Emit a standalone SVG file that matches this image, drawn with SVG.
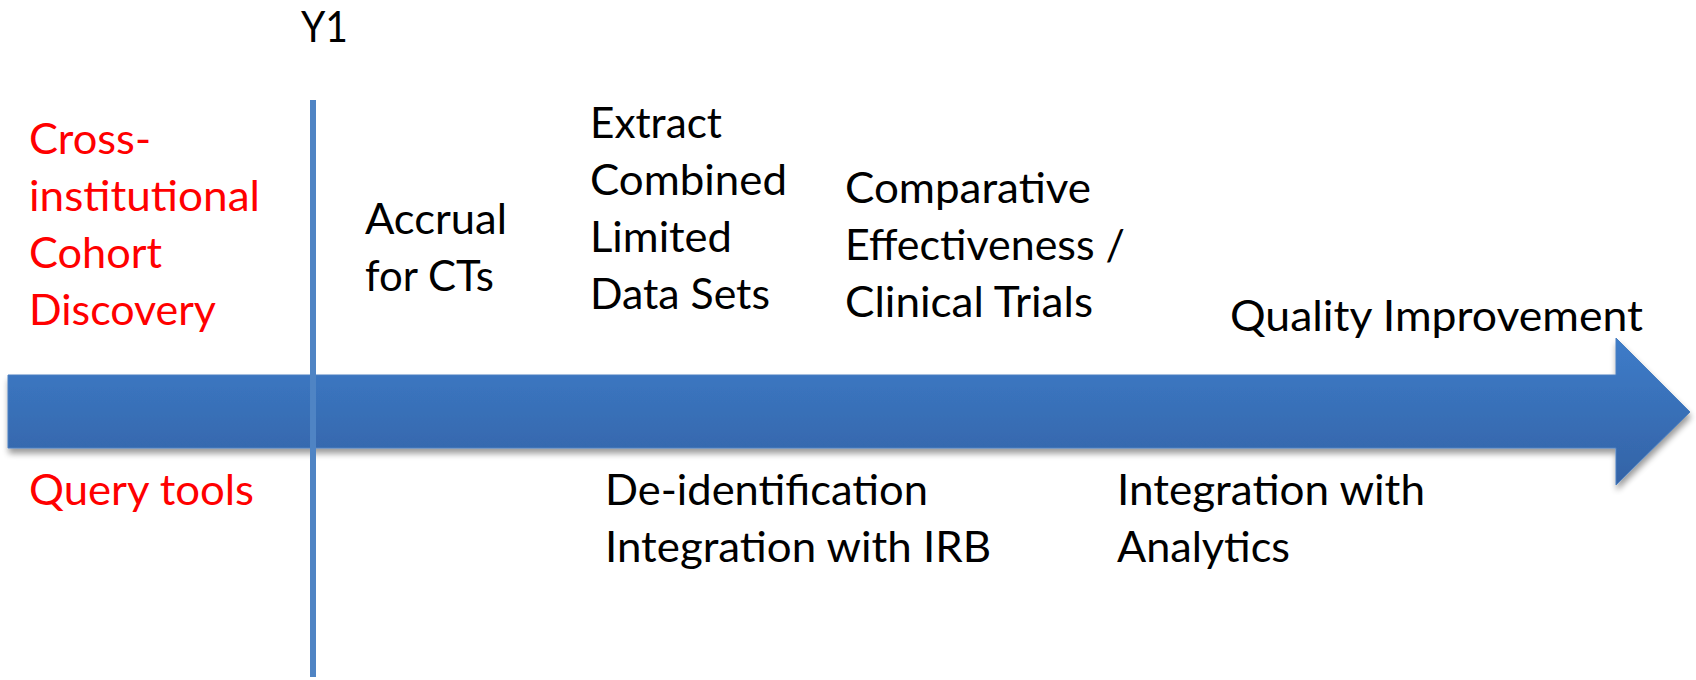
<svg xmlns="http://www.w3.org/2000/svg" width="1696" height="680" viewBox="0 0 1696 680">
  <style>
    text { font-family: Lato, "Open Sans", "Liberation Sans", sans-serif; font-size: 43px; fill: #000000; }
    .red { fill: #ff0000; }
  </style>
  <defs>
    <linearGradient id="arrowFill" x1="0" y1="0" x2="0" y2="1">
      <stop offset="0" stop-color="#3d7cc9"/>
      <stop offset="1" stop-color="#3463a6"/>
    </linearGradient>
    <filter id="shadow" x="-5%" y="-20%" width="110%" height="150%">
      <feGaussianBlur in="SourceAlpha" stdDeviation="3"/>
      <feOffset dx="1" dy="5" result="b"/>
      <feComponentTransfer><feFuncA type="linear" slope="0.4"/></feComponentTransfer>
      <feMerge><feMergeNode/><feMergeNode in="SourceGraphic"/></feMerge>
    </filter>
  </defs>
  <rect width="1696" height="680" fill="#ffffff"/>

  <g id="connectors">
    <polygon id="timeline-arrow" points="8,375 1616,375 1616,338 1690,412 1616,485 1616,448 8,448" fill="url(#arrowFill)" stroke="#4a7fc0" stroke-width="1" filter="url(#shadow)"/>
    <line id="y1-marker" x1="313" y1="100" x2="313" y2="677" stroke="#4f84c4" stroke-width="6"/>
  </g>

  <g id="label-y1"><text x="301" y="42" textLength="47" lengthAdjust="spacingAndGlyphs">Y1</text></g>

  <g id="label-cohort-discovery">
    <text class="red" x="29" y="154" textLength="122" lengthAdjust="spacingAndGlyphs">Cross-</text>
    <text class="red" x="29" y="211" textLength="231" lengthAdjust="spacingAndGlyphs">institutional</text>
    <text class="red" x="29" y="268" textLength="133" lengthAdjust="spacingAndGlyphs">Cohort</text>
    <text class="red" x="29" y="325" textLength="187" lengthAdjust="spacingAndGlyphs">Discovery</text>
  </g>

  <g id="label-query-tools">
    <text class="red" x="29" y="505" textLength="225" lengthAdjust="spacingAndGlyphs">Query tools</text>
  </g>

  <g id="label-accrual">
    <text x="365" y="234" textLength="142" lengthAdjust="spacingAndGlyphs">Accrual</text>
    <text x="365" y="291" textLength="129" lengthAdjust="spacingAndGlyphs">for CTs</text>
  </g>

  <g id="label-extract">
    <text x="590" y="138" textLength="132" lengthAdjust="spacingAndGlyphs">Extract</text>
    <text x="590" y="195" textLength="197" lengthAdjust="spacingAndGlyphs">Combined</text>
    <text x="590" y="252" textLength="142" lengthAdjust="spacingAndGlyphs">Limited</text>
    <text x="590" y="309" textLength="180" lengthAdjust="spacingAndGlyphs">Data Sets</text>
  </g>

  <g id="label-comparative">
    <text x="845" y="203" textLength="246" lengthAdjust="spacingAndGlyphs">Comparative</text>
    <text x="845" y="260" textLength="280" lengthAdjust="spacingAndGlyphs">Effectiveness /</text>
    <text x="845" y="317" textLength="248" lengthAdjust="spacingAndGlyphs">Clinical Trials</text>
  </g>

  <g id="label-quality">
    <text x="1230" y="331" textLength="413" lengthAdjust="spacingAndGlyphs">Quality Improvement</text>
  </g>

  <g id="label-deidentification">
    <text x="605" y="505" textLength="323" lengthAdjust="spacingAndGlyphs">De-identification</text>
    <text x="605" y="562" textLength="386" lengthAdjust="spacingAndGlyphs">Integration with IRB</text>
  </g>

  <g id="label-analytics">
    <text x="1117" y="505" textLength="308" lengthAdjust="spacingAndGlyphs">Integration with</text>
    <text x="1117" y="562" textLength="173" lengthAdjust="spacingAndGlyphs">Analytics</text>
  </g>
</svg>
